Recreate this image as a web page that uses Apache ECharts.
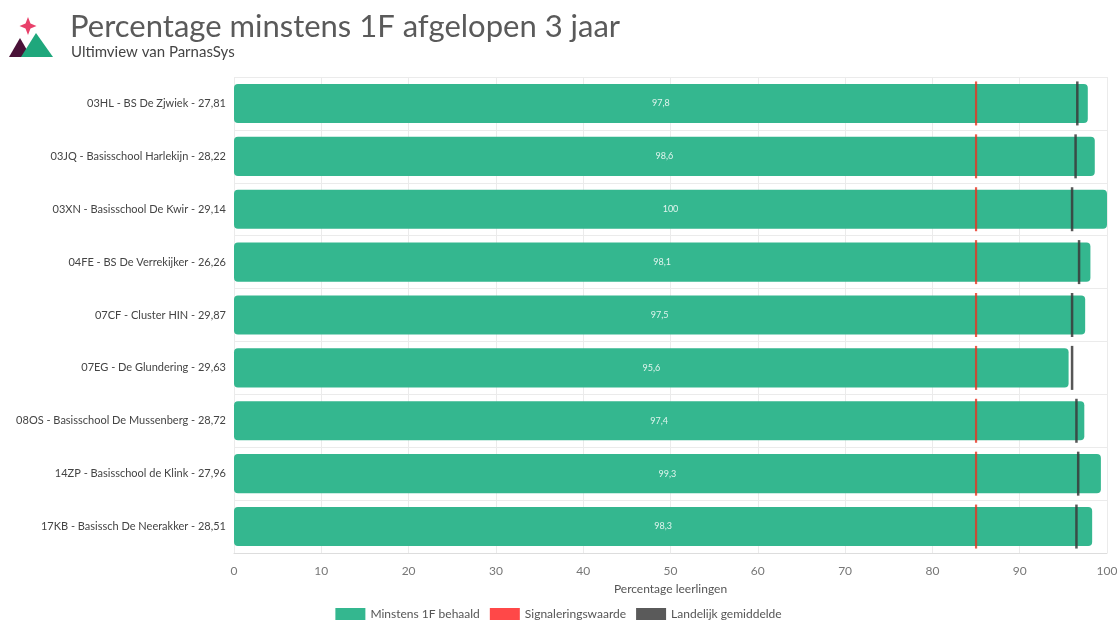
<!DOCTYPE html>
<html>
<head>
<meta charset="utf-8">
<script src="https://cdn.jsdelivr.net/npm/echarts@6/dist/echarts.min.js"></script>
<style>html,body{margin:0;padding:0;background:#fff;}#c{width:1117px;height:621px;}</style>
</head>
<body>
<div id="c"></div>
<script>
const categories = [
  '03HL - BS De Zjwiek - 27,81',
  '03JQ - Basisschool Harlekijn - 28,22',
  '03XN - Basisschool De Kwir - 29,14',
  '04FE - BS De Verrekijker - 26,26',
  '07CF - Cluster HIN - 29,87',
  '07EG - De Glundering - 29,63',
  '08OS - Basisschool De Mussenberg - 28,72',
  '14ZP - Basisschool de Klink - 27,96',
  '17KB - Basissch De Neerakker - 28,51'
];
const behaald = [97.8, 98.6, 100, 98.1, 97.5, 95.6, 97.4, 99.3, 98.3];
const signalering = [85, 85, 85, 85, 85, 85, 85, 85, 85];
const landelijk = [96.6, 96.4, 96.0, 96.8, 96.0, 96.0, 96.5, 96.7, 96.5];
const xTicks = [0, 10, 20, 30, 40, 50, 60, 70, 80, 90, 100];

const FONT = 'Lato, "Noto Sans", sans-serif';
const chart = echarts.init(document.getElementById('c'));
chart.setOption({
  animation: false,
  textStyle: { fontFamily: FONT },
  title: [
    { text: 'Percentage minstens 1F afgelopen 3 jaar', left: 65, top: 6,
      textStyle: { fontSize: 31, fontWeight: 'normal', color: '#5a5a5a', fontFamily: FONT } },
    { text: 'Ultimview van ParnasSys', left: 66, top: 40,
      textStyle: { fontSize: 15, fontWeight: 'normal', color: '#444', fontFamily: FONT } }
  ],
  graphic: [
    { type: 'polygon', shape: { points: [[9,57],[20,38],[31,57]] }, style: { fill: '#4a1238' } },
    { type: 'polygon', shape: { points: [[21,57],[36,33],[53,57]] }, style: { fill: '#1fa77c' } },
    { type: 'polygon', shape: { points: [[28,17],[30.5,23.5],[36.5,26],[30.5,28.5],[28,35],[25.5,28.5],[19.5,26],[25.5,23.5]] }, style: { fill: '#e8406a' } }
  ],
  legend: {
    top: 603, left: 'center', icon: 'rect', itemWidth: 30, itemHeight: 12, itemGap: 10,
    textStyle: { fontSize: 12, color: '#555', fontFamily: FONT },
    data: [
      { name: 'Minstens 1F behaald', itemStyle: { color: '#34b78f' } },
      { name: 'Signaleringswaarde', itemStyle: { color: '#ff1a1a' } },
      { name: 'Landelijk gemiddelde', itemStyle: { color: '#3d3d3d' } }
    ]
  },
  grid: { left: 234, right: 10, top: 77, bottom: 68, containLabel: false, outerBoundsMode: 'none' },
  xAxis: {
    type: 'value', min: 0, max: 100, interval: 10,
    name: 'Percentage leerlingen', nameLocation: 'middle', nameGap: 30,
    nameTextStyle: { fontSize: 12, color: '#555', fontFamily: FONT },
    axisLine: { show: true, lineStyle: { color: '#ddd' } },
    axisTick: { show: false },
    axisLabel: { color: '#777', fontSize: 12, margin: 12,
      formatter: v => xTicks.includes(v) ? String(v) : '' },
    splitLine: { show: true, lineStyle: { color: '#ebebeb' } }
  },
  yAxis: {
    type: 'category', data: categories, inverse: true,
    axisLine: { show: false }, axisTick: { show: false },
    axisLabel: { color: '#444', fontSize: 11, margin: 8 },
    splitLine: { show: true, lineStyle: { color: '#ebebeb' } }
  },
  series: [
    {
      name: 'Minstens 1F behaald', type: 'bar', data: behaald, barWidth: '74%',
      itemStyle: { color: '#34b78f', borderRadius: 4 },
      label: { show: true, position: 'inside', fontSize: 9, color: 'rgba(255,255,255,0.85)',
        formatter: p => String(p.value).replace('.', ',') }
    },
    {
      name: 'Signaleringswaarde', type: 'scatter', symbol: 'rect', symbolSize: [2.2, 44],
      data: signalering.map((v, i) => [v, categories[i]]),
      itemStyle: { color: '#e8321f' }, z: 5
    },
    {
      name: 'Landelijk gemiddelde', type: 'scatter', symbol: 'rect', symbolSize: [2.5, 44],
      data: landelijk.map((v, i) => [v, categories[i]]),
      itemStyle: { color: '#3a3a3a', opacity: 0.85 }, z: 5
    }
  ]
});
</script>
</body>
</html>
